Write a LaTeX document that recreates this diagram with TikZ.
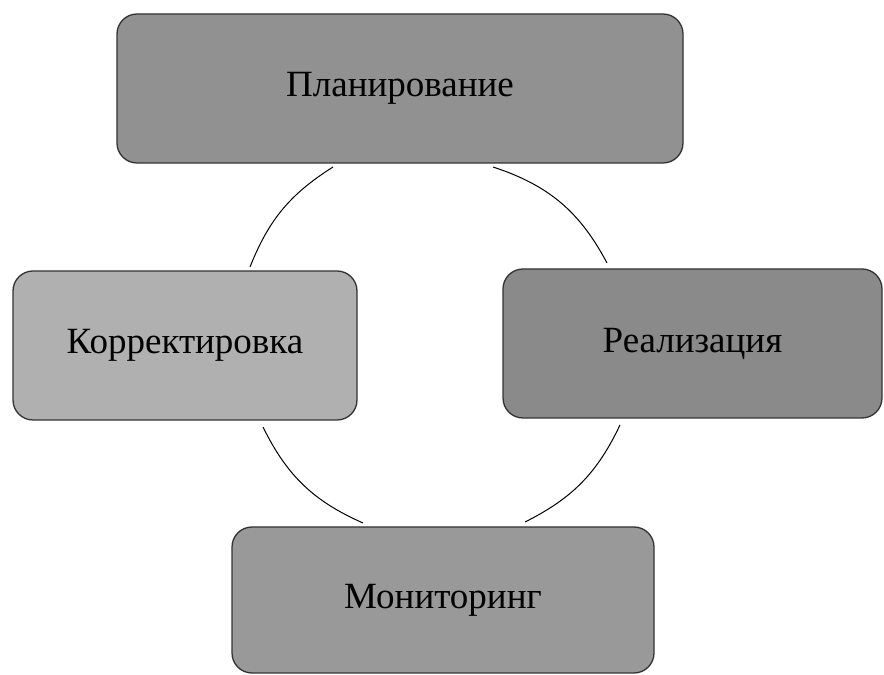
\documentclass[tikz,border=0pt]{standalone}
\usepackage{fontspec}
\setmainfont{Liberation Serif}
\begin{document}
\begin{tikzpicture}[x=1pt,y=1pt,
  box/.style={draw=black!80, line width=1.3pt, rounded corners=20pt, inner sep=0pt,
    font=\fontsize{37}{44}\selectfont, text=black},
  arcline/.style={draw=black, line width=1pt}]
\useasboundingbox (0,0) rectangle (884,675);
\node[box, fill=black!43, minimum width=566pt, minimum height=149pt] (plan) at (400,586.5) {Планирование};
\node[box, fill=black!31, minimum width=344pt, minimum height=149pt] (korr) at (185,329.5) {Корректировка};
\node[box, fill=black!46, minimum width=379pt, minimum height=149pt] (real) at (692.5,331.5) {Реализация};
\node[box, fill=black!40, minimum width=422pt, minimum height=146pt] (mon) at (443,75) {Мониторинг};
\coordinate (a) at (333,508);
\coordinate (b) at (250,408);
\coordinate (c) at (493,508);
\coordinate (d) at (607,412);
\coordinate (e) at (620,250);
\coordinate (f) at (525,153);
\coordinate (g) at (263,248);
\coordinate (h) at (363,152);
\draw[arcline] (d) to[bend right=22] (c);
\draw[arcline] (a) to[bend right=18] (b);
\draw[arcline] (g) to[bend right=20] (h);
\draw[arcline] (f) to[bend right=19] (e);
\end{tikzpicture}
\end{document}
